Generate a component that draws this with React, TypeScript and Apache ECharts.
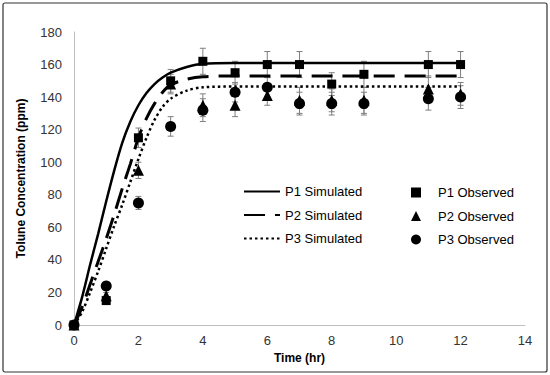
import React, { useEffect, useRef } from "react";
import * as echarts from "echarts";

// Simulated curves
const simTime = [0, 0.25, 0.5, 0.75, 1, 1.25, 1.5, 1.75, 2, 2.25, 2.5, 2.75, 3, 3.5, 4, 5, 6, 8, 10, 12];
const p1Sim = [0, 17, 37, 56, 76, 95, 112, 125, 135, 142.5, 148, 152, 155, 158.5, 160.5, 161, 161, 161, 161, 161];
const p2Sim = [0, 11, 25, 39, 53, 68, 84, 99, 115, 127, 136, 143, 147.5, 151, 152.5, 153, 153, 153, 153, 153];
const p3Sim = [0, 8, 20, 33, 47, 61, 74, 88, 102, 115, 126, 134, 139, 144, 146, 146.5, 146.5, 146.5, 146.5, 146.5];

// Observed data
const obsTime = [0, 1, 2, 3, 4, 5, 6, 7, 8, 9, 11, 12];
const p1Obs = [0, 15, 115, 150, 162, 155, 160, 160, 148, 154, 160, 160];
const p2Obs = [0, 18, 95, 148, 135, 135, 141, 138, 138, 138, 145, 142];
const p3Obs = [0, 24, 75, 122, 132, 143, 146, 136, 136, 136, 139, 140];
const p1Err = [0, 2, 6, 7, 8, 7, 8, 8, 7, 8, 8, 8];
const p2Err = [0, 2, 5, 6, 7, 7, 6, 8, 7, 8, 8, 7];
const p3Err = [0, 2, 4, 6, 7, 6, 6, 7, 7, 7, 7, 7];

const FONT = "'Liberation Sans', Arial, sans-serif";

function errData(vals: number[], errs: number[]) {
  return obsTime.map((t, i) => [t, vals[i] - errs[i], vals[i] + errs[i]]);
}

function errSeries(name: string, vals: number[], errs: number[]) {
  return {
    name,
    type: "custom",
    data: errData(vals, errs),
    renderItem: (params: any, api: any) => {
      const x = api.value(0);
      const lo = api.coord([x, api.value(1)]);
      const hi = api.coord([x, api.value(2)]);
      const w = 3;
      const style = { stroke: "#7f7f7f", lineWidth: 1 };
      return {
        type: "group",
        children: [
          { type: "line", shape: { x1: lo[0], y1: lo[1], x2: hi[0], y2: hi[1] }, style },
          { type: "line", shape: { x1: hi[0] - w, y1: hi[1], x2: hi[0] + w, y2: hi[1] }, style },
          { type: "line", shape: { x1: lo[0] - w, y1: lo[1], x2: lo[0] + w, y2: lo[1] }, style },
        ],
      };
    },
    z: 1,
    silent: true,
  };
}

function lineSeries(name: string, vals: number[], type: any, width: number) {
  return {
    name,
    type: "line",
    data: simTime.map((t, i) => [t, vals[i]]),
    symbol: "none",
    smooth: 0.3,
    lineStyle: { color: "#000", width, type, cap: "butt" },
    itemStyle: { color: "#000" },
    z: 2,
  };
}

function scatterSeries(name: string, vals: number[], symbol: string, size: number) {
  return {
    name,
    type: "scatter",
    data: obsTime.map((t, i) => [t, vals[i]]),
    symbol,
    symbolSize: size,
    itemStyle: { color: "#000", opacity: 1 },
    z: 3,
  };
}

export default function App() {
  const ref = useRef<HTMLDivElement>(null);
  useEffect(() => {
    if (!ref.current) return;
    const chart = echarts.init(ref.current, null, { renderer: "svg" });
    chart.setOption({
      animation: false,
      backgroundColor: "#fff",
      textStyle: { fontFamily: FONT },
      graphic: [
        {
          type: "rect",
          shape: { x: 3, y: 3, width: 544, height: 369, r: 2 },
          style: { fill: "none", stroke: "#333", lineWidth: 1.2 },
          silent: true,
        },
      ],
      grid: { left: 74, right: 25, top: 32, bottom: 50 },
      xAxis: {
        type: "value",
        min: 0,
        max: 14,
        interval: 2,
        name: "Time (hr)",
        nameLocation: "middle",
        nameGap: 27,
        nameTextStyle: { fontFamily: FONT, fontSize: 12, fontWeight: "bold", color: "#000" },
        axisLine: { lineStyle: { color: "#bfbfbf", width: 1 } },
        axisTick: { show: false },
        splitLine: { show: false },
        axisLabel: { fontFamily: FONT, fontSize: 13, color: "#333", margin: 9 },
      },
      yAxis: {
        type: "value",
        min: 0,
        max: 180,
        interval: 20,
        name: "Tolune Concentration (ppm)",
        nameLocation: "middle",
        nameGap: 47,
        nameTextStyle: { fontFamily: FONT, fontSize: 12, fontWeight: "bold", color: "#000" },
        axisLine: { show: true, lineStyle: { color: "#bfbfbf", width: 1 } },
        axisTick: { show: false },
        splitLine: { show: false },
        axisLabel: { fontFamily: FONT, fontSize: 13, color: "#333", margin: 12 },
      },
      legend: [
        {
          data: ["P1 Simulated", "P2 Simulated", "P3 Simulated"],
          orient: "vertical",
          left: 238,
          top: 180,
          itemWidth: 36,
          itemHeight: 14,
          itemGap: 10.5,
          itemStyle: { opacity: 0 },
          textStyle: { fontFamily: FONT, fontSize: 13, color: "#000" },
          selectedMode: false,
        },
        {
          data: [
            { name: "P1 Observed", icon: "rect" },
            { name: "P2 Observed", icon: "triangle" },
            { name: "P3 Observed", icon: "circle" },
          ],
          orient: "vertical",
          left: 406,
          top: 181,
          itemWidth: 10,
          itemHeight: 10,
          itemGap: 10.5,
          textStyle: { fontFamily: FONT, fontSize: 13, color: "#000", padding: [0, 0, 0, 12] },
          selectedMode: false,
        },
      ],
      series: [
        errSeries("P1 err", p1Obs, p1Err),
        errSeries("P2 err", p2Obs, p2Err),
        errSeries("P3 err", p3Obs, p3Err),
        lineSeries("P1 Simulated", p1Sim, "solid", 2.5),
        lineSeries("P2 Simulated", p2Sim, [21, 10], 3),
        lineSeries("P3 Simulated", p3Sim, [2.5, 3], 2.5),
        scatterSeries("P1 Observed", p1Obs, "rect", 9),
        scatterSeries("P2 Observed", p2Obs, "triangle", 11),
        scatterSeries("P3 Observed", p3Obs, "circle", 11),
      ],
    });
    return () => chart.dispose();
  }, []);
  return <div ref={ref} style={{ width: 550, height: 375, position: "absolute", left: 0, top: 0 }} />;
}
